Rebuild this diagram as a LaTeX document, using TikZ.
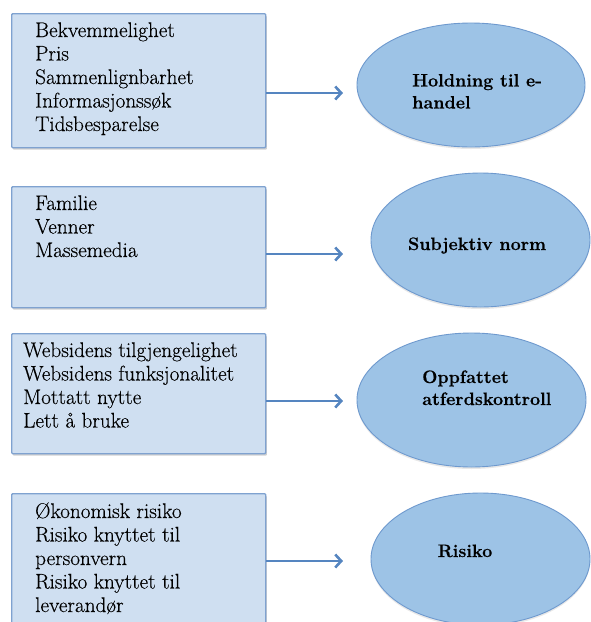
\documentclass[tikz,border=0pt]{standalone}
\usepackage{fontspec}
\newfontfamily\itemfont{Latin Modern Roman}[FakeBold=0.35]
\newfontfamily\ovalfont{Latin Modern Roman}[BoldFeatures={FakeBold=0.3}]
\usetikzlibrary{arrows.meta,shadows,shapes.geometric}

\definecolor{boxfill}{HTML}{CFDFF1}
\definecolor{boxline}{HTML}{7FA2D0}
\definecolor{ovalfill}{HTML}{9DC3E6}
\definecolor{ovalline}{HTML}{6E99CE}
\definecolor{arrowblue}{HTML}{5585C0}

\tikzset{
  factorbox/.style={draw=boxline, fill=boxfill, line width=1.4pt, rounded corners=1pt,
    inner sep=0pt, anchor=north west,
    drop shadow={shadow xshift=1.2pt, shadow yshift=-2pt, opacity=0.3, fill=black!60}},
  construct/.style={ellipse, draw=ovalline, fill=ovalfill, line width=0.9pt, inner sep=0pt,
    drop shadow={shadow xshift=0pt, shadow yshift=-2pt, opacity=0.15, fill=black!60}},
  itemlist/.style={anchor=base west, inner sep=0pt, font=\itemfont\fontsize{21.2pt}{23.5pt}\selectfont},
  ovaltext/.style={inner sep=0pt, font=\ovalfont\bfseries\fontsize{18pt}{22pt}\selectfont},
  link/.style={draw=arrowblue, line width=2.6pt, -{Straight Barb[length=6pt,width=13pt]}}
}

\begin{document}
\begin{tikzpicture}[x=1pt,y=-1pt]
  \clip (0,0) rectangle (591,622);
  \fill[white] (0,0) rectangle (591,622);

  % input factor boxes
  \node[factorbox, minimum width=254pt, minimum height=134pt] (b1) at (11,13) {};
  \node[factorbox, minimum width=254pt, minimum height=121pt] (b2) at (11,186) {};
  \node[factorbox, minimum width=254pt, minimum height=120pt] (b3) at (11,333) {};
  \node[factorbox, minimum width=254pt, minimum height=150pt] (b4) at (11,493) {};

  \node[itemlist] (t1) at (35,37) {\parbox[t]{225pt}{Bekvemmelighet\\Pris\\Sammenlignbarhet\\Informasjonssøk\\Tidsbesparelse}};
  \node[itemlist] (t2) at (35,210) {\parbox[t]{225pt}{Familie\\Venner\\Massemedia}};
  \node[itemlist] (t3) at (23,357) {\parbox[t]{240pt}{Websidens tilgjengelighet\\Websidens funksjonalitet\\Mottatt nytte\\Lett å bruke}};
  \node[itemlist] (t4) at (35,518) {\parbox[t]{225pt}{Økonomisk risiko\\Risiko knyttet til\\personvern\\Risiko knyttet til\\leverandør}};

  % constructs
  \node[construct, minimum width=228pt, minimum height=124pt] (e1) at (471,85) {};
  \node[construct, minimum width=219pt, minimum height=134pt] (e2) at (480.5,240) {};
  \node[construct, minimum width=229pt, minimum height=134pt] (e3) at (471.5,400) {};
  \node[construct, minimum width=219pt, minimum height=132pt] (e4) at (480.5,559) {};

  \node[ovaltext, anchor=base west] (h1) at (412,86.5) {\parbox[t]{150pt}{Holdning til e-\\handel}};
  \node[ovaltext, anchor=base] (h2) at (477,250) {Subjektiv norm};
  \node[ovaltext, anchor=base west] (h3) at (422,383) {\parbox[t]{160pt}{Oppfattet\\atferdskontroll}};
  \node[ovaltext, anchor=base] (h4) at (465,557) {Risiko};

  % arrow ends
  \coordinate (a1) at (343,93);
  \coordinate (a2) at (343,254);
  \coordinate (a3) at (343,401);
  \coordinate (a4) at (343,561);

  \draw[link] (b1.east |- a1) -- (a1);
  \draw[link] (b2.east |- a2) -- (a2);
  \draw[link] (b3.east |- a3) -- (a3);
  \draw[link] (b4.east |- a4) -- (a4);
\end{tikzpicture}
\end{document}
